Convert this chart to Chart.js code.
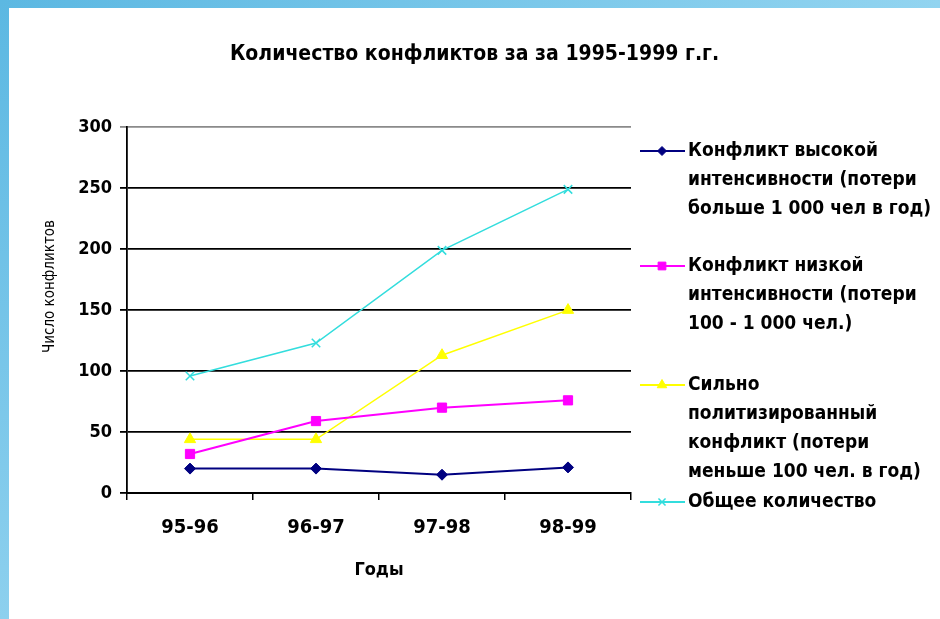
<!DOCTYPE html>
<html>
<head>
<meta charset="utf-8">
<script src="https://cdn.jsdelivr.net/npm/chart.js@4/dist/chart.umd.min.js"></script>
<style>
  body { margin: 0; background: #fff; }
  #top-strip { position: absolute; left: 0; top: 0; width: 940px; height: 8px;
    background: linear-gradient(to right, #5cb8e2, #92d4f0); }
  #left-strip { position: absolute; left: 0; top: 0; width: 9px; height: 619px;
    background: linear-gradient(to bottom, #5cb8e2, #8dd0ee); }
  #wrap { position: absolute; left: 9px; top: 8px; width: 931px; height: 611px; background: #fff; }
</style>
</head>
<body>
<div id="top-strip"></div>
<div id="left-strip"></div>
<div id="wrap"><canvas id="canvas" width="931" height="611"></canvas></div>
<script>
var years = ["95-96", "96-97", "97-98", "98-99"];
var yTicks = [0, 50, 100, 150, 200, 250, 300];

var highIntensity = [20, 20, 15, 21];
var lowIntensity = [32, 59, 70, 76];
var politicized = [44, 44, 113, 150];
var total = [96, 123, 199, 249];

var seriesNames = [
  ["Конфликт высокой", "интенсивности (потери", "больше 1 000 чел в год)"],
  ["Конфликт низкой", "интенсивности (потери", "100 - 1 000 чел.)"],
  ["Сильно", "политизированный", "конфликт (потери", "меньше 100 чел. в год)"],
  ["Общее количество"]
];

var titleText = "Количество конфликтов за за 1995-1999 г.г.";
var xTitle = "Годы";
// leading nbsp's push the rotated caption a bit up, like in the original
var yTitle = "\u00A0\u00A0\u00A0\u00A0\u00A0\u00A0\u00A0\u00A0\u00A0\u00A0\u00A0Число конфликтов";

var FONT = "'Liberation Sans Narrow', 'Arial Narrow', 'DejaVu Sans Condensed', sans-serif";

// legend drawn by hand: Excel-style multi-line entries
var legendTops = [143, 258, 377, 494];
var legendLine = 29;

var sideLegend = {
  id: "sideLegend",
  afterDraw: function (chart) {
    var ctx = chart.ctx;
    var x0 = chart.chartArea.right + 9;
    chart.data.datasets.forEach(function (ds, i) {
      var y = legendTops[i];
      ctx.save();
      ctx.strokeStyle = ds.borderColor;
      ctx.lineWidth = 2;
      ctx.beginPath();
      ctx.moveTo(x0, y);
      ctx.lineTo(x0 + 45, y);
      ctx.stroke();
      ctx.fillStyle = ds.pointBackgroundColor;
      ctx.strokeStyle = ds.borderColor;
      ctx.lineWidth = ds.pointBorderWidth || 1;
      Chart.helpers.drawPoint(ctx, {
        pointStyle: ds.pointStyle,
        radius: ds.pointRadius - 1,
        borderWidth: ctx.lineWidth,
        rotation: 0
      }, x0 + 22, y);
      ctx.fillStyle = "#000";
      ctx.font = "bold 19px " + FONT;
      ctx.textAlign = "left";
      ctx.textBaseline = "middle";
      seriesNames[i].forEach(function (line, k) {
        ctx.fillText(line, x0 + 48, y + k * legendLine);
      });
      ctx.restore();
    });
  }
};

function makeSet(name, values, color, style, radius, width) {
  return {
    label: name.join(" "),
    data: values,
    borderColor: color,
    backgroundColor: color,
    pointBackgroundColor: color,
    pointBorderColor: color,
    pointBorderWidth: style === "crossRot" ? 1.5 : 1,
    pointStyle: style,
    pointRadius: radius,
    pointHoverRadius: radius,
    borderWidth: width,
    tension: 0,
    fill: false
  };
}

var ctx = document.getElementById("canvas");

var chart = new Chart(ctx, {
  type: "line",
  data: {
    labels: years,
    datasets: [
      makeSet(seriesNames[0], highIntensity, "#000080", "rectRot", 5.5, 2),
      makeSet(seriesNames[1], lowIntensity, "#ff00ff", "rect", 6.5, 2),
      makeSet(seriesNames[2], politicized, "#ffff00", "triangle", 6.5, 1.5),
      makeSet(seriesNames[3], total, "#33dddd", "crossRot", 6, 1.5)
    ]
  },
  options: {
    responsive: false,
    animation: false,
    devicePixelRatio: 1,
    layout: { padding: 0 },
    plugins: {
      legend: { display: false },
      tooltip: { enabled: false },
      title: {
        display: true,
        text: titleText,
        color: "#000",
        font: { family: FONT, size: 21, weight: "bold", lineHeight: 1.2 },
        padding: { top: 34, bottom: 60 }
      }
    },
    scales: {
      x: {
        offset: true,
        grid: {
          display: true,
          offset: true,
          drawOnChartArea: false,
          drawTicks: true,
          tickLength: 7,
          color: "#000",
          lineWidth: 1.5
        },
        border: { display: true, color: "#000", width: 2 },
        ticks: {
          color: "#000",
          padding: 16,
          font: { family: FONT, size: 20, weight: "bold", lineHeight: 1.2 }
        },
        title: {
          display: true,
          text: xTitle,
          color: "#000",
          font: { family: FONT, size: 18, weight: "bold", lineHeight: 1.2 },
          padding: { top: 0, bottom: 38 }
        },
        afterFit: function (scale) { scale.height = 126; }
      },
      y: {
        min: 0,
        max: 300,
        afterBuildTicks: function (scale) {
          scale.ticks = yTicks.map(function (v) { return { value: v }; });
        },
        grid: {
          color: function (c) { return c.tick && c.tick.value === 300 ? "#8a8a8a" : "#000"; },
          lineWidth: 1.8,
          tickLength: 7,
          drawTicks: true
        },
        border: { display: true, color: "#000", width: 1.8 },
        ticks: {
          color: "#000",
          padding: 8,
          font: { family: FONT, size: 18, weight: "bold" }
        },
        title: {
          display: true,
          text: yTitle,
          color: "#000",
          font: { family: FONT, size: 15, lineHeight: 1.2 },
          padding: { top: 32, bottom: 0 }
        },
        afterFit: function (scale) { scale.width = 118; }
      },
      // empty scale on the right keeps room for the hand-drawn legend
      side: {
        type: "linear",
        position: "right",
        display: true,
        grid: { display: false },
        border: { display: false },
        ticks: { display: false },
        afterFit: function (scale) { scale.width = 309; }
      }
    }
  },
  plugins: [sideLegend]
});
</script>
</body>
</html>
